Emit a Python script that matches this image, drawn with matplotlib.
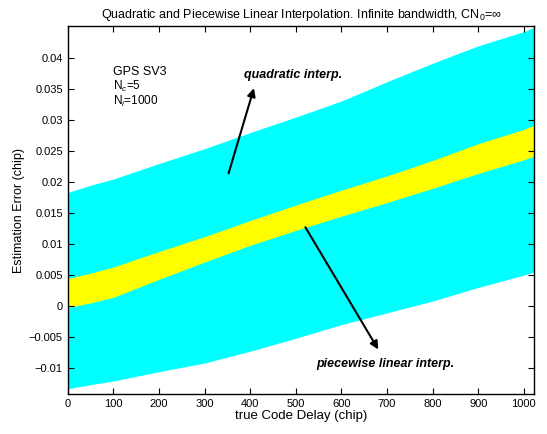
"""
Quadratic vs piecewise linear interpolation error bands, GPS SV3.
"""
import matplotlib
matplotlib.use("Agg")
import matplotlib.pyplot as plt

plt.rcParams["font.family"] = ["Liberation Sans", "DejaVu Sans"]
plt.rcParams["mathtext.fontset"] = "custom"
plt.rcParams["mathtext.rm"] = "Liberation Sans"
plt.rcParams["mathtext.it"] = "Liberation Sans:italic"

# envelope of the error traces
delay = [0, 3, 50, 100, 200, 300, 400, 500, 600, 700, 800, 900, 1000, 1023]
quad_upper = [0.0184, 0.0184, 0.0195, 0.0205, 0.0230, 0.0254, 0.0280, 0.0305,
              0.0331, 0.0362, 0.0392, 0.0420, 0.0443, 0.0450]
quad_lower = [-0.0142, -0.0133, -0.0127, -0.0121, -0.0106, -0.0092, -0.0073, -0.0052,
              -0.0030, -0.0011, 0.0008, 0.0030, 0.0050, 0.0055]
lin_upper = [0.0044, 0.0045, 0.0053, 0.0063, 0.0088, 0.0112, 0.0138, 0.0163,
             0.0187, 0.0210, 0.0235, 0.0262, 0.0285, 0.0292]
lin_lower = [-0.0003, -0.0002, 0.0005, 0.0014, 0.0043, 0.0071, 0.0098, 0.0122,
             0.0145, 0.0167, 0.0190, 0.0214, 0.0236, 0.0242]

yticks = [-0.01, -0.005, 0, 0.005, 0.01, 0.015, 0.02, 0.025, 0.03, 0.035, 0.04]
ytick_labels = ["\u22120.01", "\u22120.005", "0", "0.005", "0.01", "0.015",
                "0.02", "0.025", "0.03", "0.035", "0.04"]
xticks = [0, 100, 200, 300, 400, 500, 600, 700, 800, 900, 1000]

fig = plt.figure(figsize=(5.47, 4.34), dpi=100)
ax = fig.add_axes([0.1238, 0.0922, 0.853, 0.8478])

ax.fill_between(delay, quad_lower, quad_upper, color="#00FFFF", linewidth=0)
ax.fill_between(delay, lin_lower, lin_upper, color="#FFFF00", linewidth=0)

ax.set_xlim(0, 1023)
ax.set_ylim(-0.0142, 0.0452)
ax.set_xticks(xticks)
ax.set_yticks(yticks)
ax.set_yticklabels(ytick_labels)
ax.tick_params(direction="in", top=True, right=True, labelsize=8, length=4, width=0.8)
for s in ax.spines.values():
    s.set_linewidth(1.0)

ax.set_xlabel("true Code Delay (chip)", fontsize=9.5, labelpad=1)
ax.set_ylabel("Estimation Error (chip)", fontsize=9, labelpad=3)
ax.set_title(r"Quadratic and Piecewise Linear Interpolation. Infinite bandwidth, CN$_0$=$\infty$",
             fontsize=9, pad=6)

ax.text(99, 0.0378, "GPS SV3", fontsize=9, va="center")
ax.text(99, 0.0354, r"N$_c$=5", fontsize=8.5, va="center")
ax.text(99, 0.0330, r"N$_i$=1000", fontsize=8.5, va="center")

ax.text(386, 0.0373, "quadratic interp.", fontsize=9, fontweight="bold",
        fontstyle="italic", va="center")
ax.annotate("", xy=(410, 0.0356), xytext=(351, 0.0210),
            arrowprops=dict(arrowstyle="-|>", color="black", lw=1.5, mutation_scale=12))
ax.text(546, -0.0094, "piecewise linear interp.", fontsize=9, fontweight="bold",
        fontstyle="italic", va="center")
ax.annotate("", xy=(684, -0.0074), xytext=(518, 0.0131),
            arrowprops=dict(arrowstyle="-|>", color="black", lw=1.5, mutation_scale=12))

fig.savefig("out.png", dpi=100)
plt.close()
